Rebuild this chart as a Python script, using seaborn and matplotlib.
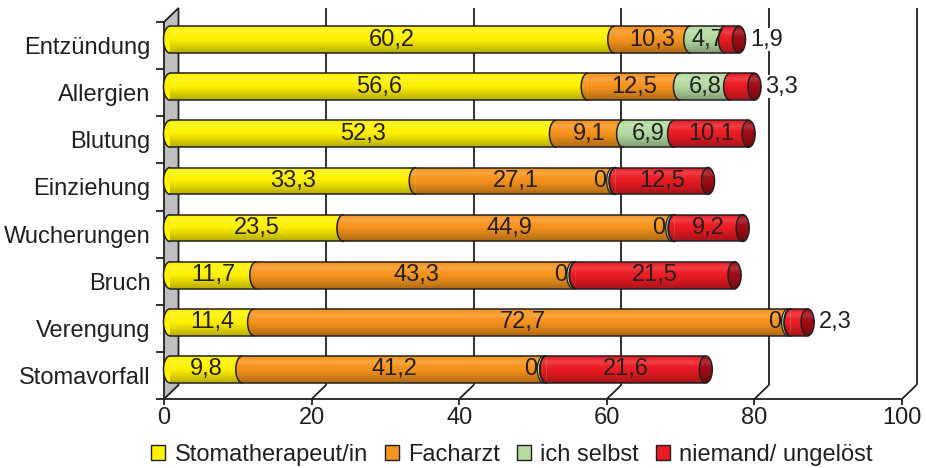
import numpy as np
import pandas as pd
import matplotlib
matplotlib.use("Agg")
import matplotlib.pyplot as plt
import seaborn as sns
from matplotlib.patches import Polygon, Ellipse, PathPatch, Patch
from matplotlib.path import Path
from matplotlib.transforms import ScaledTranslation

# ---- data -------------------------------------------------------------
categories = ["Entzündung", "Allergien", "Blutung", "Einziehung",
              "Wucherungen", "Bruch", "Verengung", "Stomavorfall"]
stomatherapeut = [60.2, 56.6, 52.3, 33.3, 23.5, 11.7, 11.4, 9.8]
facharzt = [10.3, 12.5, 9.1, 27.1, 44.9, 43.3, 72.7, 41.2]
ich_selbst = [4.7, 6.8, 6.9, 0, 0, 0, 0, 0]
niemand = [1.9, 3.3, 10.1, 12.5, 9.2, 21.5, 2.3, 21.6]
series_names = ["Stomatherapeut/in", "Facharzt", "ich selbst", "niemand/ ungelöst"]
x_ticks = [0, 20, 40, 60, 80, 100]

df = pd.DataFrame({"Problem": categories,
                   series_names[0]: stomatherapeut,
                   series_names[1]: facharzt,
                   series_names[2]: ich_selbst,
                   series_names[3]: niemand})
values = df[series_names].to_numpy(dtype=float)
cum = values.cumsum(axis=1)
starts = cum - values

# ---- style ------------------------------------------------------------
colors = ["#FFF200", "#F7941D", "#B5DBA0", "#ED1C24"]
cap_color = "#A00D16"
ink = "#231F20"
FS = 17
BAR_H = 0.57

sns.set_theme(style="white")
plt.rcParams["font.family"] = ["Liberation Sans", "DejaVu Sans"]
plt.rcParams["text.color"] = ink

W, H = 926, 468
fig = plt.figure(figsize=(W / 100, H / 100), dpi=100)
ax_l, ax_r, ax_t, ax_b = 170, 908, 16, 393
ax = fig.add_axes([ax_l / W, 1 - ax_b / H, (ax_r - ax_l) / W, (ax_b - ax_t) / H])
ax.set_facecolor("none")

PX_X = (ax_r - ax_l) / 100.0          # pixels per x unit
PX_Y = (ax_b - ax_t) / len(categories)  # pixels per category
fdx, fdy = -6 / PX_X, 6 / PX_Y        # front plane offset
bdx, bdy = 8.5 / PX_X, -8 / PX_Y      # back plane offset
CAP_W = 13 / PX_X                      # width of the cylinder end ellipse

# stacked bars: longest cumulative first, shorter ones painted over it
for k in reversed(range(len(series_names))):
    sns.barplot(x=cum[:, k], y=categories, order=categories, orient="h",
                color=colors[k], saturation=1, width=BAR_H,
                edgecolor="none", linewidth=0, zorder=2, ax=ax)

ax.set_xlim(0, 100)
ax.set_ylim(len(categories) - 0.5, -0.5)
for s in ax.spines.values():
    s.set_visible(False)
ax.set_xlabel("")
ax.set_ylabel("")

y_top, y_bot = -0.5, len(categories) - 0.5
line_kw = dict(color=ink, lw=1.3, clip_on=False, solid_capstyle="butt")

# left wall
wall = Polygon([(fdx, y_top + fdy), (bdx, y_top + bdy), (bdx, y_bot + bdy), (fdx, y_bot + fdy)],
               closed=True, facecolor="#BEBFC1", edgecolor=ink, lw=1.3,
               clip_on=False, zorder=0.5)
ax.add_patch(wall)

# back grid lines, floor and front ticks
for t in x_ticks[1:]:
    ax.plot([t + bdx, t + bdx], [y_top + bdy, y_bot + bdy], zorder=0.6, **line_kw)
    ax.plot([t + bdx, t + fdx], [y_bot + bdy, y_bot + fdy], zorder=0.6, **line_kw)
for t in x_ticks:
    ax.plot([t + fdx, t + fdx], [y_bot + fdy, y_bot + fdy + 6 / PX_Y], zorder=0.6, **line_kw)
ax.plot([fdx, 100 + fdx], [y_bot + fdy, y_bot + fdy], zorder=0.6, **line_kw)
for b in np.arange(len(categories) + 1) - 0.5:
    ax.plot([fdx - 8 / PX_X, fdx], [b + fdy, b + fdy], zorder=0.6, **line_kw)


def arc_pts(xc, yc, th0, th1, n=40):
    th = np.radians(np.linspace(th0, th1, n))
    return np.column_stack([xc + CAP_W / 2 * np.cos(th), yc + BAR_H / 2 * np.sin(th)])


# vertical shading of the cylinders
tt = np.linspace(0, 1, 120)
shade = np.zeros((tt.size, 1, 4))
dark = np.clip((tt - 0.45) / 0.55, 0, 1) ** 1.2 * 0.30
light = 0.15 * np.exp(-((tt - 0.22) / 0.12) ** 2)
shade[:, 0, :3] = np.where(dark > light, 0.0, 1.0)[:, None]
shade[:, 0, 3] = np.maximum(dark, light)

for i, cat in enumerate(categories):
    total = cum[i, -1]
    # left end caps of every segment (round ends lying over the previous one)
    for k in range(len(series_names)):
        L = starts[i, k]
        if values[i, k] == 0:
            pts = np.vstack([arc_pts(L - 0.35, i, 90, 270), [[L, i + BAR_H / 2], [L, i - BAR_H / 2]]])
        else:
            pts = np.vstack([arc_pts(L, i, 90, 270), [[L + 0.01, i + BAR_H / 2], [L + 0.01, i - BAR_H / 2]]])
        ax.add_patch(Polygon(pts, closed=True, facecolor=colors[k], edgecolor="none",
                             zorder=3, clip_on=False))
    # visible end face
    ax.add_patch(Ellipse((total, i), CAP_W, BAR_H, facecolor=cap_color, edgecolor="none",
                         zorder=3.5, clip_on=False))

    # shading clipped to the whole cylinder outline
    capsule = np.vstack([arc_pts(0, i, 90, 270), arc_pts(total, i, -90, 90)])
    clip = PathPatch(Path(np.vstack([capsule, capsule[:1]]), closed=True),
                     transform=ax.transData)
    im = ax.imshow(shade, extent=(-CAP_W, total + CAP_W, i + BAR_H / 2, i - BAR_H / 2),
                   aspect="auto", origin="upper", zorder=4, interpolation="bilinear")
    im.set_clip_path(clip)

    # outlines
    ol = dict(color=ink, lw=1.1, zorder=5, clip_on=False)
    ax.plot([0, total], [i - BAR_H / 2] * 2, **ol)
    ax.plot([0, total], [i + BAR_H / 2] * 2, **ol)
    for k in range(len(series_names)):
        L = starts[i, k]
        a = arc_pts(L, i, 90, 270)
        ax.plot(a[:, 0], a[:, 1], **ol)
        if values[i, k] == 0:
            a = arc_pts(L - 0.35, i, 90, 270)
            ax.plot(a[:, 0], a[:, 1], color=ink, lw=0.9, zorder=5, clip_on=False)
    e = arc_pts(total, i, 0, 360, 80)
    ax.plot(e[:, 0], e[:, 1], **ol)

    # value labels
    for k in range(len(series_names)):
        v = values[i, k]
        txt = "0" if v == 0 else f"{v:.1f}".replace(".", ",")
        if v == 0:
            ax.text(starts[i, k] - 0.35 - CAP_W / 2, i, txt, ha="right", va="center",
                    fontsize=FS, color=ink, zorder=6)
        elif k == len(series_names) - 1 and v < 4:
            ax.text(total + CAP_W / 2 + 0.6, i, txt, ha="left", va="center",
                    fontsize=FS, color=ink, zorder=6,
                    bbox=dict(facecolor="white", edgecolor="none", pad=0.5))
        else:
            ax.text(starts[i, k] + v / 2, i, txt, ha="center", va="center",
                    fontsize=FS, color=ink, zorder=6)

ax.set_xlim(0, 100)
ax.set_ylim(len(categories) - 0.5, -0.5)

# tick labels on the front plane
ax.set_xticks(x_ticks)
ax.set_xticklabels([str(t) for t in x_ticks], fontsize=FS, color=ink)
ax.tick_params(axis="x", length=0, pad=10)
ax.set_yticks(range(len(categories)))
ax.set_yticklabels(categories, fontsize=FS, color=ink)
ax.tick_params(axis="y", length=0, pad=14)
xoff = ScaledTranslation(-6 / 100, 0, fig.dpi_scale_trans)
yoff = ScaledTranslation(0, -6 / 100, fig.dpi_scale_trans)
for lab in ax.get_xticklabels():
    lab.set_transform(lab.get_transform() + xoff)
for lab in ax.get_yticklabels():
    lab.set_transform(lab.get_transform() + yoff)

handles = [Patch(facecolor=c, edgecolor=ink, linewidth=1.0) for c in colors]
fig.legend(handles, series_names, loc="center", bbox_to_anchor=(512 / W, 1 - 455 / H),
           ncol=4, frameon=False, handlelength=0.6, handleheight=0.6,
           handletextpad=0.4, columnspacing=0.7, fontsize=FS, borderaxespad=0)

fig.savefig("out.png", dpi=100)
